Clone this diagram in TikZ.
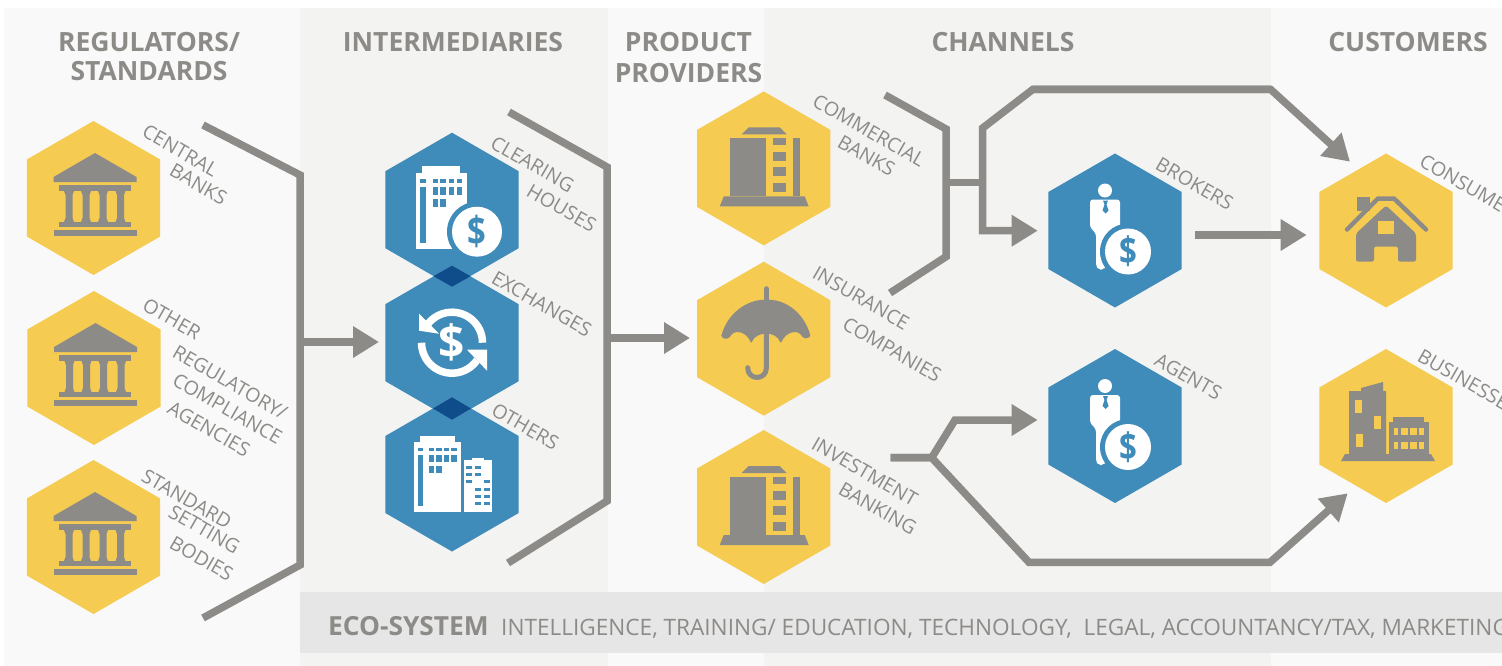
\documentclass[tikz,border=0pt]{standalone}
\usepackage{fontspec}
\setmainfont{Open Sans}
\usetikzlibrary{arrows.meta,shapes.geometric}
\definecolor{hexyellow}{HTML}{F5CB52}
\definecolor{hexblue}{HTML}{3F8BBA}
\definecolor{hexdark}{HTML}{0F4C8A}
\definecolor{linegray}{HTML}{8D8B88}
\definecolor{bandlight}{HTML}{F9F9F9}
\definecolor{banddark}{HTML}{F3F3F2}
\definecolor{ecobar}{HTML}{E6E6E6}
\newcommand{\dollarmark}{\scalebox{.82}[1]{\$}}
\tikzset{
  yellowhex/.style={regular polygon,regular polygon sides=6,shape border rotate=30,minimum size=154pt,inner sep=0pt,outer sep=0pt,fill=hexyellow},
  bluehex/.style={yellowhex,fill=hexblue},
  heading/.style={anchor=base,inner sep=0pt,text=linegray,font=\fontsize{26.5}{30}\selectfont\bfseries},
  hexlabel/.style={anchor=base west,inner sep=0pt,rotate=-30,text=linegray,font=\fontsize{19.5}{24}\selectfont},
  bracket/.style={draw=linegray,line width=7.5pt},
  flow/.style={draw=linegray,line width=7.5pt,-{Triangle[length=26pt,width=30pt]}},
  bankicon/.pic={
    \fill[linegray] (1.5,-45) -- (43,-21) -- (43,-16) -- (-40,-16) -- (-40,-21) -- cycle;
    \fill[linegray] (-35,-13) rectangle (37,-7);
    \foreach \cx in {-24.5,-7.5,9.5,27}{
      \fill[linegray] (\cx-5,-7) -- (\cx+5,-7) -- (\cx+3.5,-3) -- (\cx+3.5,20) -- (\cx+5,24) -- (\cx-5,24) -- (\cx-3.5,20) -- (\cx-3.5,-3) -- cycle;
    }
    \fill[linegray] (-35,24) rectangle (37,29);
    \fill[linegray] (-40,32) rectangle (43,38);
  },
  tallbank/.pic={
    \fill[linegray] (-22,-34) -- (23,-34) -- (16,-41) -- (-15,-41) -- cycle;
    \fill[linegray] (-34,-30) rectangle (2,28);
    \foreach \ya/\yb in {-30/-23,-16/-7,-1/8,15/24}{
      \fill[linegray] (9,\ya) rectangle (22,\yb);
    }
    \fill[linegray] (29,-30) rectangle (36,28);
    \fill[linegray] (-44,38) -- (45,38) -- (41,28) -- (-40,28) -- cycle;
  },
  umbrella/.pic={
    \fill[linegray,rounded corners=1.5pt] (-42.5,-2) .. controls (-37,-24) and (-18,-39) .. (2.7,-39) .. controls (24,-39) and (41,-24) .. (47,-2)
      .. controls (42,0) and (40,0) .. (38,-3) .. controls (33,-9) and (22,-7) .. (17,5) .. controls (13,-8) and (-8,-8) .. (-12.5,5) .. controls (-17,-7) and (-28,-9) .. (-33,-3) .. controls (-35,0) and (-38,1) .. (-42.5,-2) -- cycle;
    \draw[linegray,line width=5pt,line cap=round] (2.7,-50) -- (2.7,-35);
    \draw[linegray,line width=5pt,line cap=round] (2.7,-10) -- (2.7,29) .. controls (2.7,42) and (-16,42) .. (-16,29);
  },
  brokericon/.pic={
    \fill[white] (-10,-40) circle (7pt);
    \fill[white,rounded corners=3pt] (-25,-31) -- (-5,-31) -- (5,-31) -- (5,6) -- (-9,10) -- (-9,36) -- (-12,39) -- (-16,39) -- (-19,36) -- (-19,3) -- (-25,-3) -- cycle;
    \fill[hexblue] (-12,-30) -- (-7,-30) -- (-8.5,-26) -- (-6.5,-20) -- (-9.5,-17) -- (-12.5,-20) -- (-10.5,-26) -- cycle;
    \fill[hexblue] (13,21) circle (28pt);
    \fill[white] (13,21) circle (23pt);
    \node (-dollar) at (13,21) [inner sep=0pt,text=hexblue,font=\fontsize{38}{38}\selectfont\bfseries] {\dollarmark};
  },
  clearicon/.pic={
    \fill[white] (-30,-44) rectangle (8,-37);
    \fill[white] (-36,-37) rectangle (15,39);
    \fill[hexblue] (-32,-31) rectangle (-26,-27);
    \fill[hexblue] (-32,-23) rectangle (-26,33);
    \foreach \xa/\xb in {-19/-14,-12/-6,-3/2,5/10}{
      \fill[hexblue] (\xa,-31) rectangle (\xb,-27);
      \fill[hexblue] (\xa,-23) rectangle (\xb,-15);
    }
    \foreach \xa/\xb in {-19/-14,-12/-6}{
      \fill[hexblue] (\xa,-11) rectangle (\xb,-3);
    }
    \fill[hexblue] (25,22) circle (30pt);
    \fill[white] (25,22) circle (25pt);
    \node (-dollar) at (25,22) [inner sep=0pt,text=hexblue,font=\fontsize{40}{40}\selectfont\bfseries] {\dollarmark};
  },
  swapicon/.pic={
    \draw[white,line width=7.5pt] plot[domain=0:-145,samples=24] ({30.5*cos(\x)},{30.5*sin(\x)});
    \fill[white] (-33,-29) -- (-33,-12) -- (-13,-9) -- cycle;
    \draw[white,line width=7.5pt] plot[domain=180:35,samples=24] ({30.5*cos(\x)},{30.5*sin(\x)});
    \fill[white] (35,7) -- (35,28) -- (15,7) -- cycle;
    \node (-dollar) at (0,0) [inner sep=0pt,text=white,font=\fontsize{46}{46}\selectfont\bfseries] {\$};
  },
  towericon/.pic={
    \fill[white] (-32,-39) rectangle (3,-33);
    \fill[white] (-38,-33) rectangle (9,37);
    \fill[hexblue] (-34,-27) rectangle (-29,-24);
    \fill[hexblue] (-34,-20) rectangle (-29,31);
    \foreach \xa/\xb in {-23/-18,-16/-10,-8/-3,-1/5}{
      \fill[hexblue] (\xa,-27) rectangle (\xb,-24);
      \fill[hexblue] (\xa,-20) rectangle (\xb,-13);
    }
    \foreach \xa/\xb in {-23/-18,-16/-10}{
      \fill[hexblue] (\xa,-9) rectangle (\xb,-2);
    }
    \fill[white] (20,-17) rectangle (32,-15);
    \fill[white] (12,-15) rectangle (40,37);
    \foreach \xa/\ya in {14/-9,23/-9,14/-2,23/-2,14/5,32/5,23/13,32/13,23/20,32/20,23/27,32/27}{
      \fill[hexblue] (\xa,\ya) rectangle (\xa+6,\ya+3.5);
    }
  },
  houseicon/.pic={
    \fill[linegray] (-29,-34) rectangle (-16,-20);
    \draw[linegray,line width=4.5pt,line cap=round,line join=round] (-39,-1) -- (-8,-32) -- (8,-32) -- (40,-1);
    \fill[linegray,rounded corners=2pt] (0,-25) -- (30,3) -- (30,31) -- (12,31) -- (12,16) -- (-12,16) -- (-12,31) -- (-30,31) -- (-30,3) -- cycle;
    \fill[hexyellow] (-8,-10) rectangle (8,3);
  },
  officeicon/.pic={
    \fill[linegray] (-37,-35) -- (-25,-35) -- (-25,-38) -- (-3,-44) -- (-3,-35) -- (0,-35) -- (0,28) -- (-37,28) -- cycle;
    \fill[hexyellow] (-31,-26) rectangle (-24,-13);
    \fill[hexyellow] (-12,-10) rectangle (-5,3);
    \fill[hexyellow] (-30,8) rectangle (-23,21);
    \fill[linegray] (7,-9) rectangle (38,-4);
    \fill[linegray] (3,-4) rectangle (43,28);
    \foreach \xa/\xb in {8/12,15/22,24/31,33/38}{
      \fill[hexyellow] (\xa,2) rectangle (\xb,9);
      \fill[hexyellow] (\xa,16) rectangle (\xb,23);
    }
    \fill[linegray] (-45,35) -- (49,35) -- (45,28) -- (-41,28) -- cycle;
  },
}
\begin{document}
\begin{tikzpicture}[x=1pt,y=-1pt]
  \useasboundingbox (0,0) rectangle (1502,666);
  \clip (0,0) rectangle (1502,666);

  \fill[bandlight] (4,8) rectangle (300,666);
  \fill[banddark] (300,8) rectangle (608,666);
  \fill[bandlight] (608,8) rectangle (764,666);
  \fill[banddark] (764,8) rectangle (1271,666);
  \fill[bandlight] (1271,8) rectangle (1502,666);
  \fill[ecobar] (300,592) rectangle (1502,653);

  \node (headreg) at (149,52) [heading] {REGULATORS/};
  \node (headstd) at (149,81) [heading] {STANDARDS};
  \node (headint) at (453,52) [heading] {INTERMEDIARIES};
  \node (headprod) at (688.5,52) [heading] {PRODUCT};
  \node (headprov) at (688.5,83) [heading] {PROVIDERS};
  \node (headchan) at (1003,52) [heading] {CHANNELS};
  \node (headcust) at (1408,52) [heading] {CUSTOMERS};

  \node (central) at (93.5,198) [yellowhex] {};
  \node (regulatory) at (94,368) [yellowhex] {};
  \node (standard) at (93.5,537) [yellowhex] {};
  \node (clearing) at (452,209.7) [bluehex] {};
  \node (exchanges) at (452,342.7) [bluehex] {};
  \node (others) at (452,474.5) [bluehex] {};
  \node (commercial) at (763.7,168.4) [yellowhex] {};
  \node (insurance) at (763.7,338.7) [yellowhex] {};
  \node (investment) at (763.7,507) [yellowhex] {};
  \node (brokers) at (1115,230.5) [bluehex] {};
  \node (agents) at (1115,426) [bluehex] {};
  \node (consumers) at (1386,230.5) [yellowhex] {};
  \node (businesses) at (1386,426) [yellowhex] {};

  \fill[hexdark] (452,265.7) -- (470.5,276.2) -- (452,286.7) -- (433.5,276.2) -- cycle;
  \fill[hexdark] (452,397.3) -- (471,408.5) -- (452,419.7) -- (433,408.5) -- cycle;

  \pic (icona) at (central) {bankicon};
  \pic (iconb) at (regulatory) {bankicon};
  \pic (iconc) at (standard) {bankicon};
  \pic (icond) at (clearing) {clearicon};
  \pic (icone) at (exchanges) {swapicon};
  \pic (iconf) at (others) {towericon};
  \pic (icong) at (commercial) {tallbank};
  \pic (iconh) at (insurance) {umbrella};
  \pic (iconi) at (investment) {tallbank};
  \pic (iconj) at (brokers) {brokericon};
  \pic (iconk) at (agents) {brokericon};
  \pic (iconl) at (consumers) {houseicon};
  \pic (iconm) at (businesses) {officeicon};

  \node (lbla) at (140.6,135.7) [hexlabel] {CENTRAL};
  \node (lblb) at (168,174.7) [hexlabel] {BANKS};
  \node (lblc) at (141,309) [hexlabel] {OTHER};
  \node (lbld) at (171,356) [hexlabel] {REGULATORY/};
  \node (lble) at (171,384) [hexlabel] {COMPLIANCE};
  \node (lblf) at (166,412) [hexlabel] {AGENCIES};
  \node (lblg) at (140,480) [hexlabel] {STANDARD};
  \node (lblh) at (167,516) [hexlabel] {SETTING};
  \node (lbli) at (168,547) [hexlabel] {BODIES};
  \node (lblj) at (489,147) [hexlabel] {CLEARING};
  \node (lblk) at (525,195) [hexlabel] {HOUSES};
  \node (lbll) at (490,282) [hexlabel] {EXCHANGES};
  \node (lblm) at (490,414) [hexlabel] {OTHERS};
  \node (lbln) at (811,105) [hexlabel] {COMMERCIAL};
  \node (lblo) at (836,146) [hexlabel] {BANKS};
  \node (lblp) at (811,277) [hexlabel] {INSURANCE};
  \node (lblq) at (841,328) [hexlabel] {COMPANIES};
  \node (lblr) at (810,448) [hexlabel] {INVESTMENT};
  \node (lbls) at (837,493) [hexlabel] {BANKING};
  \node (lblt) at (1154,168) [hexlabel] {BROKERS};
  \node (lblu) at (1153,364) [hexlabel] {AGENTS};
  \node (lblv) at (1418,165) [hexlabel] {CONSUMERS};
  \node (lblw) at (1416,360) [hexlabel] {BUSINESSES};

  \coordinate (brka1) at (203,125);
  \coordinate (brka2) at (300,175);
  \coordinate (brka3) at (300,565);
  \coordinate (brka4) at (203,618);
  \coordinate (brka5) at (303,342);
  \coordinate (tipa) at (379,342);
  \draw[bracket] (brka1) -- (brka2) -- (brka3) -- (brka4);
  \draw[flow] (brka5) -- (tipa);

  \coordinate (brkb1) at (509,112);
  \coordinate (brkb2) at (607,167);
  \coordinate (brkb3) at (607,501);
  \coordinate (brkb4) at (508,563);
  \coordinate (brkb5) at (609,338);
  \coordinate (tipb) at (690,338);
  \draw[bracket] (brkb1) -- (brkb2) -- (brkb3) -- (brkb4);
  \draw[flow] (brkb5) -- (tipb);

  \coordinate (brkc1) at (885,95);
  \coordinate (brkc2) at (946,129);
  \coordinate (brkc3) at (946,256.7);
  \coordinate (brkc4) at (890,293);
  \coordinate (brkc5) at (946,182.3);
  \coordinate (forkc) at (986,182.3);
  \draw[bracket] (brkc1) -- (brkc2) -- (brkc3) -- (brkc4);
  \draw[bracket] (brkc5) -- (forkc);

  \coordinate (upa) at (982.7,230.7);
  \coordinate (upb) at (982.7,128);
  \coordinate (upc) at (1032.7,89.5);
  \coordinate (upd) at (1270.7,89.5);
  \coordinate (tipc) at (1037.7,230.7);
  \coordinate (tipd) at (1350,161.7);
  \draw[flow] (upd) -- (upc) -- (upb) -- (upa) -- (tipc);
  \draw[flow] (upc) -- (upd) -- (tipd);

  \coordinate (arra) at (1195,235);
  \coordinate (tipe) at (1306.7,235);
  \draw[flow] (arra) -- (tipe);

  \coordinate (lowa) at (890.7,457.7);
  \coordinate (lowb) at (931.7,457.7);
  \coordinate (lowc) at (955,420);
  \coordinate (lowd) at (1029,562.3);
  \coordinate (lowe) at (1270,562.3);
  \coordinate (tipf) at (1037.7,420);
  \coordinate (tipg) at (1347.7,493.3);
  \draw[flow] (lowa) -- (lowb) -- (lowc) -- (tipf);
  \draw[flow] (lowa) -- (lowb) -- (lowd) -- (lowe) -- (tipg);

  \node (ecohead) at (328,635) [anchor=base west,inner sep=0pt,text=linegray,font=\fontsize{26.3}{30}\selectfont\bfseries] {ECO-SYSTEM};
  \node (ecotext) at (501,635) [anchor=base west,inner sep=0pt,text=linegray,font=\fontsize{22.6}{26}\selectfont] {INTELLIGENCE, TRAINING/ EDUCATION, TECHNOLOGY,\ \ LEGAL, ACCOUNTANCY/TAX, MARKETING};
\end{tikzpicture}
\end{document}
